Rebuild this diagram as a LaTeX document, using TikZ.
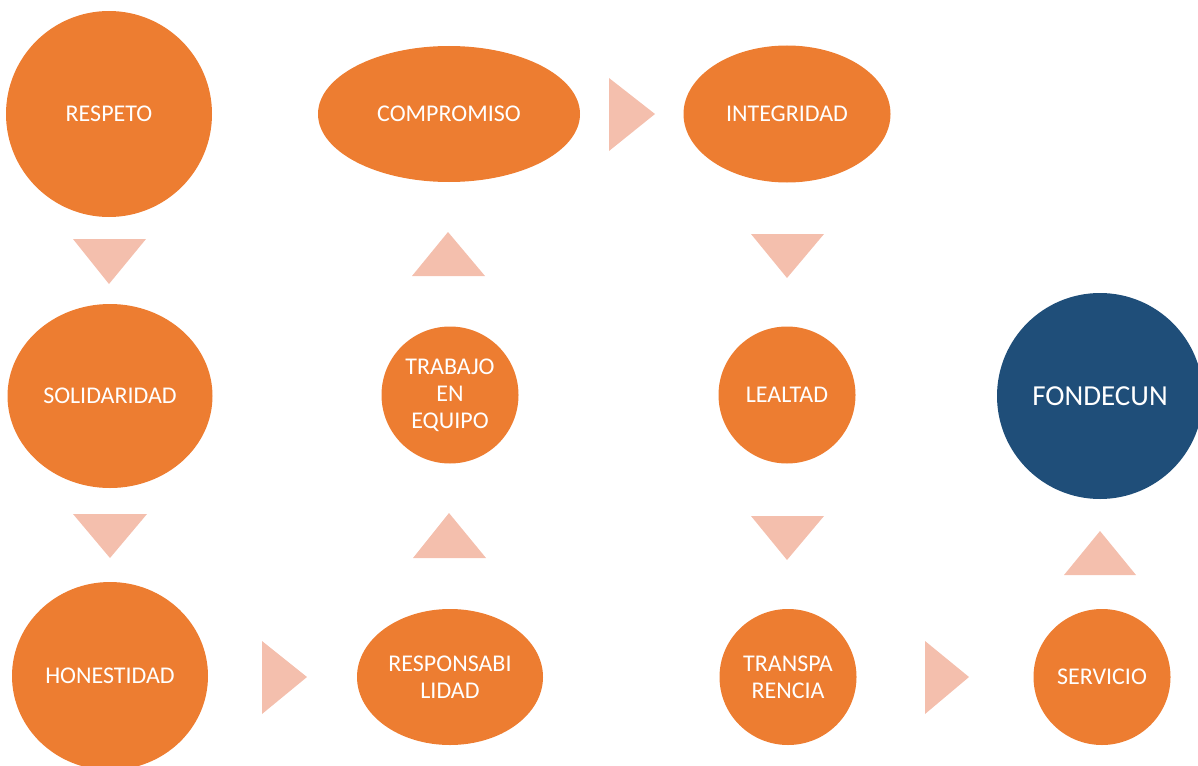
\documentclass[tikz,border=0pt]{standalone}
\usepackage{fontspec}
\setmainfont{Carlito}
\usetikzlibrary{shapes.geometric}
\definecolor{orng}{HTML}{ED7D31}
\definecolor{trifill}{HTML}{F4BFAD}
\definecolor{navy}{HTML}{1F4E79}
\begin{document}
\begin{tikzpicture}[x=1pt,y=-1pt,
  val/.style={ellipse, fill=orng, draw=none, text=white, inner sep=0pt, align=center,
    font=\fontsize{24}{27}\selectfont},
  core/.style={val, fill=navy, font=\fontsize{29}{33}\selectfont},
  arrowtri/.style={fill=trifill, draw=none}]
\useasboundingbox (0,0) rectangle (1198,765);

% values
\node[val, minimum width=206pt, minimum height=206pt] (respeto) at (109,114) {RESPETO};
\node[val, minimum width=262pt, minimum height=136pt] (compromiso) at (449,114) {COMPROMISO};
\node[val, minimum width=207pt, minimum height=137pt] (integridad) at (787,114) {INTEGRIDAD};
\node[val, minimum width=205pt, minimum height=184pt] (solidaridad) at (110,396) {SOLIDARIDAD};
\node[val, minimum width=137pt, minimum height=137pt] (trabajo) at (450,395) {TRABAJO\\EN\\EQUIPO};
\node[val, minimum width=137pt, minimum height=137pt] (lealtad) at (787,395) {LEALTAD};
\node[core, minimum width=206pt, minimum height=206pt] (fondecun) at (1100,396) {FONDECUN};
\node[val, minimum width=196pt, minimum height=188pt] (honestidad) at (110,676) {HONESTIDAD};
\node[val, minimum width=186pt, minimum height=136pt] (responsabilidad) at (450,677) {RESPONSABI\\LIDAD};
\node[val, minimum width=137pt, minimum height=136pt] (transparencia) at (788,677) {TRANSPA\\RENCIA};
\node[val, minimum width=137pt, minimum height=136pt] (servicio) at (1102,677) {SERVICIO};

% arrow triangles
\fill[arrowtri] (73,239) -- (146,239) -- (109,284) -- cycle;
\fill[arrowtri] (73,514) -- (147,514) -- (110,558) -- cycle;
\fill[arrowtri] (262,641) -- (307,677) -- (262,714) -- cycle;
\fill[arrowtri] (413,558) -- (486,558) -- (449,513) -- cycle;
\fill[arrowtri] (412,276) -- (485,276) -- (448,232) -- cycle;
\fill[arrowtri] (609,78) -- (655,114) -- (609,151) -- cycle;
\fill[arrowtri] (751,234) -- (824,234) -- (787,278) -- cycle;
\fill[arrowtri] (751,516) -- (824,516) -- (787,560) -- cycle;
\fill[arrowtri] (925,641) -- (969,677) -- (925,714) -- cycle;
\fill[arrowtri] (1064,575) -- (1136,575) -- (1100,531) -- cycle;
\end{tikzpicture}
\end{document}
